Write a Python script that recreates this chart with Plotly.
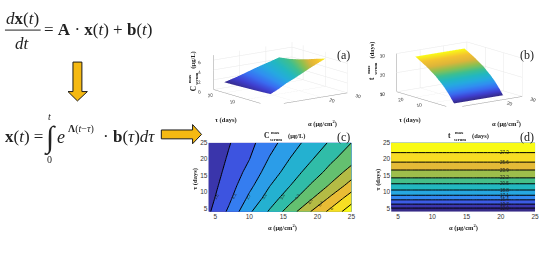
import plotly.graph_objects as go

W, H = 550, 253
PARULA = [[0.0, "#352a87"], [0.1, "#3f3fcf"], [0.2, "#3a6af0"], [0.3, "#3090f0"], [0.4, "#25aadf"],
          [0.5, "#22b8c0"], [0.6, "#3dbf90"], [0.7, "#8cc050"], [0.8, "#dcb53a"], [0.9, "#f5c330"], [1.0, "#f9fb15"]]

alpha = [4, 7, 10, 13, 16, 19, 22, 25]
tau_c = [4, 8, 12, 16, 20, 25]
c_serum = [
    [1.52, 2.25, 3.16, 3.87, 4.64, 5.45, 6.17, 6.88],
    [1.41, 2.04, 2.82, 3.52, 4.15, 4.83, 5.58, 6.31],
    [1.33, 1.89, 2.55, 3.23, 3.79, 4.39, 4.98, 5.69],
    [1.26, 1.77, 2.33, 2.96, 3.51, 4.03, 4.56, 5.14],
    [1.20, 1.67, 2.14, 2.75, 3.27, 3.74, 4.25, 4.69],
    [1.14, 1.56, 1.99, 2.50, 3.00, 3.45, 3.88, 4.35],
]
tau_t = [4, 5.1, 6.3, 7.6, 9, 10.6, 12.5, 14.3, 16.7, 19.1, 22, 25]
t_by_tau = [10.5, 12.0, 13.7, 15.4, 17.1, 18.8, 20.5, 22.2, 23.9, 25.6, 27.3, 29.0]
t_serum = [[v] * len(alpha) for v in t_by_tau]
ticks_2d = [5, 10, 15, 20, 25]

def dom_x(a, b):
    return [a / W, b / W]

def dom_y(top, bottom):
    return [1 - bottom / H, 1 - top / H]

fig = go.Figure()
flat = dict(ambient=1, diffuse=0, specular=0, roughness=1, fresnel=0)

fig.add_trace(go.Surface(x=alpha, y=tau_c, z=c_serum, colorscale=PARULA, showscale=False, scene="scene", cmin=1.1, cmax=6.88, lighting=flat))
fig.add_trace(go.Surface(x=alpha, y=tau_t, z=t_serum, colorscale=PARULA, showscale=False, scene="scene2", cmin=10.5, cmax=29, lighting=flat))

fig.add_trace(go.Contour(x=alpha, y=tau_c, z=c_serum, colorscale=PARULA, showscale=False, zmin=1.05, zmax=6.55,
                         xaxis="x", yaxis="y",
                         contours=dict(start=1.05, end=6.55, size=0.55, coloring="fill", showlabels=False),
                         line=dict(color="#000000", width=1, smoothing=0)))
fig.add_trace(go.Contour(x=alpha, y=tau_t, z=t_serum, colorscale=PARULA, showscale=False, zmin=10.3, zmax=27.3,
                         xaxis="x2", yaxis="y2",
                         contours=dict(start=12, end=27.3, size=1.7, coloring="fill", showlabels=False),
                         line=dict(color="#000000", width=1, smoothing=0)))

def axis2d(dom, rng, anchor):
    return dict(domain=dom, range=rng, anchor=anchor, tickvals=ticks_2d, ticks="", showgrid=False, zeroline=False,
                showline=False, tickfont=dict(size=6.5, color="#333333", family="Liberation Sans"))

def axis3d(rng, vals):
    return dict(range=rng, tickvals=vals, title=dict(text=""), showgrid=True, gridcolor="#e8e8e8", gridwidth=1,
                showbackground=False, showline=True, linecolor="#999999", linewidth=1, zeroline=False,
                ticks="", tickfont=dict(size=7.5, color="#333333", family="Liberation Sans"), showspikes=False)

cam = dict(projection=dict(type="orthographic"), eye=dict(x=-0.6, y=-0.8, z=0.227), center=dict(x=0, y=0, z=0))

shapes = [
    dict(type="line", xref="paper", yref="paper", x0=5 / W, x1=41 / W, y0=1 - 26.5 / H, y1=1 - 26.5 / H,
         line=dict(color="#222222", width=1)),
    dict(type="path", xref="paper", yref="paper", fillcolor="#f5b912", line=dict(color="#1a1a1a", width=1),
         path="M {} {} L {} {} L {} {} L {} {} L {} {} L {} {} L {} {} Z".format(
             *[v for px, py in [(73.5, 59), (82.5, 59), (82.5, 89), (88, 89), (78, 98.5), (68.5, 89), (73.5, 89)]
               for v in (px / W, 1 - py / H)])),
    dict(type="path", xref="paper", yref="paper", fillcolor="#f5b912", line=dict(color="#1a1a1a", width=1),
         path="M {} {} L {} {} L {} {} L {} {} L {} {} L {} {} L {} {} Z".format(
             *[v for px, py in [(162.5, 128), (194, 128), (194, 122.5), (203, 132.5), (194, 142), (194, 137), (162.5, 137)]
               for v in (px / W, 1 - py / H)])),
]

notes = []

def note(text, x, y, size=9, family="Liberation Serif", color="#222222", angle=0):
    notes.append(dict(text=text, xref="paper", yref="paper", x=x / W, y=1 - y / H, xanchor="center", yanchor="middle",
                      showarrow=False, textangle=angle, font=dict(size=size, family=family, color=color)))

note("<i>d</i><b>x</b>(<i>t</i>)", 23, 15, 17)
note("<i>dt</i>", 23, 40, 17)
note("= <b>A</b> · <b>x</b>(<i>t</i>) + <b>b</b>(<i>t</i>)", 99, 26, 17)
note("<b>x</b>(<i>t</i>) =", 24, 135, 17)
note("∫", 50, 136, 30)
note("<i>t</i>", 50, 114, 10)
note("0", 50, 158, 10)
note("<i>e</i>", 61, 135, 18)
note("<b>Λ</b>(<i>t</i>−<i>τ</i>)", 82, 127, 10)
note("· <b>b</b>(<i>τ</i>)<i>dτ</i>", 130, 135, 17)

note("(a)", 346, 52, 12)
note("(b)", 531, 52, 12)
note("(c)", 346, 135, 12)
note("(d)", 531, 135, 12)

def c_label(cx, cy, head, tail, size=6.5):
    note("<b>" + head + "</b>", cx - 13, cy, size + 1)
    note("<b>max</b>", cx - 3, cy - 3.5, 4.5)
    note("<b>serum</b>", cx - 3, cy + 3.5, 4.5)
    note("<b>" + tail + "</b>", cx + 18, cy, size)

def c_label_v(cx, cy, head, tail, size=6.5):
    note("<b>" + head + "</b>", cx, cy + 13, size + 1, angle=-90)
    note("<b>max</b>", cx - 3.5, cy + 3, 4.5, angle=-90)
    note("<b>serum</b>", cx + 3.5, cy + 3, 4.5, angle=-90)
    note("<b>" + tail + "</b>", cx, cy - 16, size, angle=-90)

c_label(281, 134, "C", "(μg/L)")
c_label(466, 134, "t", "(days)")
c_label_v(195, 73, "C", "(μg/L)")
c_label_v(375, 63, "t", "(days)")
note("<b>α (μg/cm<sup>2</sup>)</b>", 285, 227, 6.5)
note("<b>α (μg/cm<sup>2</sup>)</b>", 467, 227, 6.5)
note("<b>τ (days)</b>", 197, 178, 6.5, angle=-90)
note("<b>τ (days)</b>", 381, 178, 6.5, angle=-90)
note("<b>τ (days)</b>", 228, 118, 6.5)
note("<b>α (μg/cm<sup>2</sup>)</b>", 325, 121, 6.5)
note("<b>τ (days)</b>", 413, 118, 6.5)
note("<b>α (μg/cm<sup>2</sup>)</b>", 510, 121, 6.5)

c_labels = ["1.6", "2.1", "2.7", "3.2", "3.8", "4.3", "4.9", "5.4", "6"]
c_label_px = [(217.7, 195.3), (236, 194.7), (250, 195.3), (266, 195.3), (284.3, 195.3), (299.3, 195.3), (312.3, 200.3), (323.3, 203), (334, 207.3)]
for txt, (lx, ly) in zip(c_labels, c_label_px):
    note(txt, lx, ly, 4, family="Liberation Sans", angle=-60, color="#222222")
for lvl, tau in zip(t_by_tau[1:11], tau_t[1:11]):
    notes.append(dict(text=str(lvl), xref="x2", yref="y2", x=20.5, y=tau, showarrow=False, xanchor="center", yanchor="middle",
                      font=dict(size=4.5, family="Liberation Sans", color="#222222")))

fig.update_layout(
    width=W, height=H, margin=dict(l=0, r=0, t=0, b=0), paper_bgcolor="white", plot_bgcolor="white",
    showlegend=False, shapes=shapes, annotations=notes,
    xaxis=axis2d(dom_x(210, 354), [4, 25], "y"),
    yaxis=axis2d(dom_y(141, 211), [4, 25], "x"),
    xaxis2=axis2d(dom_x(394, 539), [4, 25], "y2"),
    yaxis2=axis2d(dom_y(141, 211), [4, 25], "x2"),
    scene=dict(domain=dict(x=dom_x(192, 372), y=dom_y(21, 121)), camera=cam,
               aspectmode="manual", aspectratio=dict(x=2.0, y=1.88, z=0.72),
               xaxis=axis3d([0, 30], [0, 10, 20, 30]), yaxis=axis3d([0, 25], [0, 10, 20]), zaxis=axis3d([0, 7], [0, 2, 4, 6])),
    scene2=dict(domain=dict(x=dom_x(380, 546), y=dom_y(22, 122)), camera=cam,
                aspectmode="manual", aspectratio=dict(x=1.79, y=1.88, z=0.8),
                xaxis=axis3d([0, 30], [0, 10, 20, 30]), yaxis=axis3d([0, 30], [0, 10, 20, 30]), zaxis=axis3d([10, 30], [10, 20, 30])),
)
fig.write_html("out.html", config=dict(displayModeBar=False), post_script="document.body.style.margin='0';")
